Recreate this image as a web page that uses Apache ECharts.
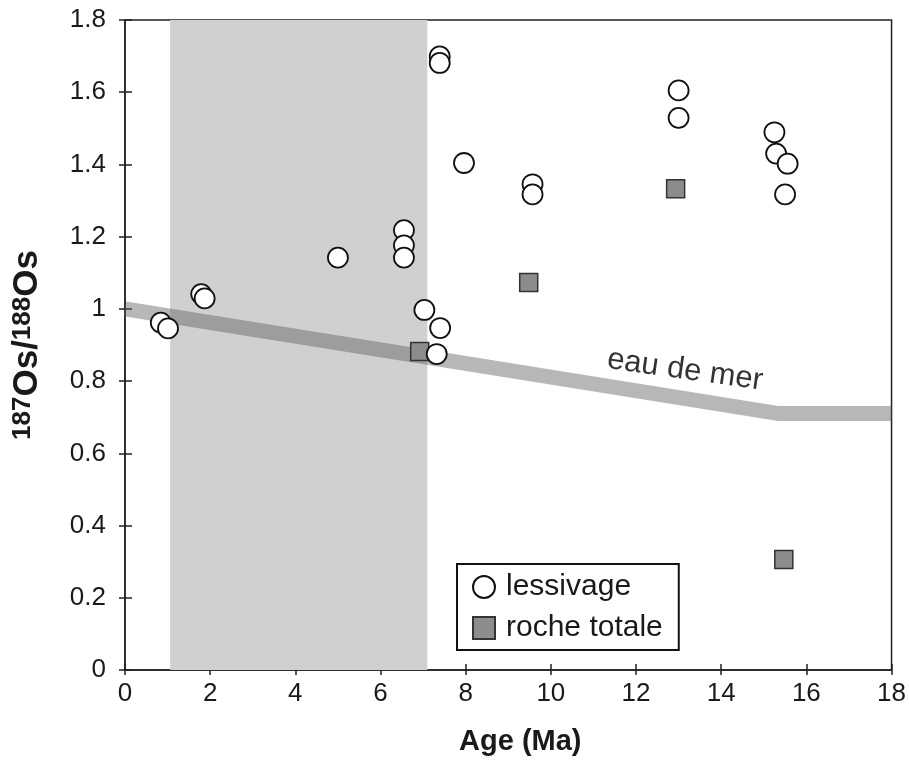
<!DOCTYPE html>
<html>
<head>
<meta charset="utf-8">
<script src="https://cdn.jsdelivr.net/npm/echarts@6/dist/echarts.min.js"></script>
<style>
html,body{margin:0;padding:0;background:#fff;}
#chart{width:909px;height:761px;}
</style>
</head>
<body>
<div id="chart"></div>
<script>
// ---- data ----
const lessivageAge = [0.84, 1.01, 1.79, 1.87, 5.0, 6.55, 6.55, 6.55, 7.03, 7.40, 7.39, 7.39, 7.96, 7.32, 9.57, 9.57, 13.0, 13.0, 15.25, 15.29, 15.56, 15.5];
const lessivageOs  = [0.962, 0.946, 1.041, 1.029, 1.142, 1.218, 1.176, 1.142, 0.997, 0.947, 1.699, 1.681, 1.404, 0.875, 1.345, 1.317, 1.605, 1.529, 1.489, 1.43, 1.402, 1.317];
const rocheAge = [6.92, 9.48, 12.93, 15.47];
const rocheOs  = [0.882, 1.073, 1.333, 0.306];
const seaAge = [0, 15.35, 18];
const seaOs  = [1.0, 0.71, 0.71];
const shadeRange = [1.06, 7.1];
const seaLabel = 'eau de mer';
const seaLabelPos = [13.15, 0.83];
const seriesNames = ['lessivage', 'roche totale'];
const xRange = [0, 18, 2];
const yRange = [0, 1.8, 0.2];

const zip = (a, b) => a.map((v, i) => [v, b[i]]);

const font = '"Liberation Sans", Arial, Helvetica, sans-serif';
const chart = echarts.init(document.getElementById('chart'), null, {renderer: 'canvas'});

const baseX = {
  type: 'value', min: xRange[0], max: xRange[1], interval: xRange[2],
  position: 'bottom', splitLine: {show: false}
};
const baseY = {
  type: 'value', min: yRange[0], max: yRange[1], interval: yRange[2],
  position: 'left', splitLine: {show: false}
};

chart.setOption({
  animation: false,
  backgroundColor: '#fff',
  grid: {left: 125, right: 13, top: 20, bottom: 88, show: true, borderColor: '#222', borderWidth: 1.5, backgroundColor: 'transparent'},
  xAxis: [
    Object.assign({}, baseX, {
      axisLine: {show: true, lineStyle: {color: '#222', width: 1.5}},
      axisTick: {show: true, inside: false, length: 5, lineStyle: {color: '#222', width: 1.5}},
      axisLabel: {color: '#1a1a1a', fontSize: 26, fontFamily: font, margin: 11},
      name: 'Age (Ma)', nameLocation: 'middle', nameGap: 57,
      nameTextStyle: {color: '#1a1a1a', fontSize: 29, fontWeight: 'bold', fontFamily: font, padding: [0, 0, 0, 24]}
    }),
    Object.assign({}, baseX, {
      axisLine: {show: false},
      axisTick: {show: true, inside: true, length: 6, lineStyle: {color: '#222', width: 1.5}},
      axisLabel: {show: false}
    })
  ],
  yAxis: [
    Object.assign({}, baseY, {
      axisLine: {show: true, lineStyle: {color: '#222', width: 1.5}},
      axisTick: {show: true, inside: false, length: 6, lineStyle: {color: '#222', width: 1.5}},
      axisLabel: {color: '#1a1a1a', fontSize: 26, fontFamily: font, margin: 19},
      name: '{sup|187}{m|Os/}{sup|188}{m|Os}',
      nameLocation: 'middle', nameRotate: 90, nameGap: 80,
      nameTextStyle: {
        color: '#1a1a1a', fontFamily: font,
        rich: {
          m: {fontSize: 35, fontWeight: 'bold', fontFamily: font, color: '#1a1a1a'},
          sup: {fontSize: 26, fontWeight: 'bold', fontFamily: font, color: '#1a1a1a', verticalAlign: 'top', padding: [0, 0, 8, 0]}
        }
      }
    }),
    Object.assign({}, baseY, {
      axisLine: {show: false},
      axisTick: {show: true, inside: true, length: 7, lineStyle: {color: '#222', width: 1.5}},
      axisLabel: {show: false}
    })
  ],
  legend: {
    data: seriesNames,
    orient: 'vertical',
    left: 457, top: 564,
    padding: [8, 16, 7, 15],
    itemGap: 11,
    itemWidth: 22, itemHeight: 22,
    backgroundColor: '#fff',
    borderColor: '#111', borderWidth: 2, borderRadius: 0,
    textStyle: {color: '#1a1a1a', fontSize: 30, fontFamily: font, padding: [0, 0, 0, 6]},
    selectedMode: false
  },
  series: [
    {
      name: 'shade', type: 'line', data: [], z: 1, silent: true,
      markArea: {
        silent: true,
        itemStyle: {color: '#d0d0d0'},
        data: [[{xAxis: shadeRange[0], yAxis: yRange[0]}, {xAxis: shadeRange[1], yAxis: yRange[1]}]]
      }
    },
    {
      name: 'eau', type: 'line', data: zip(seaAge, seaOs), z: 2, silent: true,
      showSymbol: false, symbol: 'none',
      lineStyle: {color: 'rgba(95,95,95,0.45)', width: 15, cap: 'butt', join: 'miter'}
    },
    {
      name: 'eauLabel', type: 'scatter', data: [seaLabelPos], z: 3, silent: true,
      symbolSize: 0,
      label: {show: true, position: 'inside', formatter: seaLabel, rotate: -8,
              fontSize: 31, fontFamily: font, color: '#000'}
    },
    {
      name: seriesNames[0], type: 'scatter', data: zip(lessivageAge, lessivageOs), z: 5,
      symbol: 'circle', symbolSize: 20,
      itemStyle: {color: '#fff', borderColor: '#111', borderWidth: 1.8, opacity: 1}
    },
    {
      name: seriesNames[1], type: 'scatter', data: zip(rocheAge, rocheOs), z: 4,
      symbol: 'rect', symbolSize: 18,
      itemStyle: {color: '#8c8c8c', borderColor: '#333', borderWidth: 1.5, opacity: 1}
    }
  ]
});
</script>
</body>
</html>
